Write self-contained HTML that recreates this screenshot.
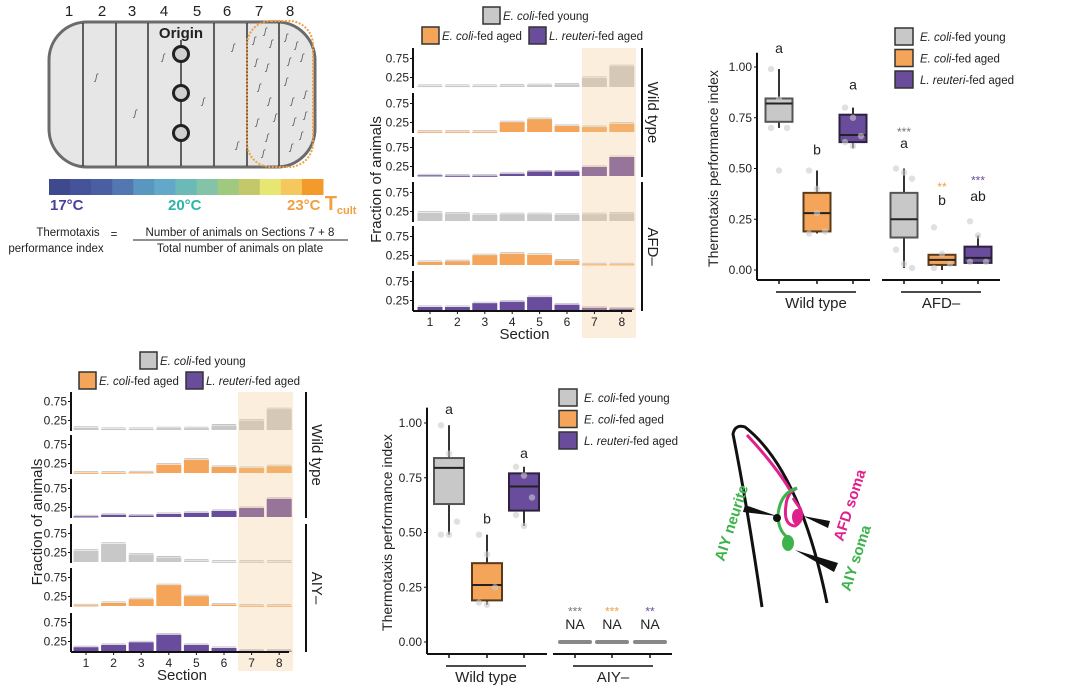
<!DOCTYPE html>
<html><head><meta charset="utf-8">
<style>
html,body{margin:0;padding:0;background:#fff;}
svg{display:block;font-family:"Liberation Sans",Arial,sans-serif;}
</style></head>
<body>
<svg id="fig" width="1072" height="690" viewBox="0 0 1072 690" xmlns="http://www.w3.org/2000/svg">
<!-- Panel A -->
<g>
  <rect x="49" y="22" width="266" height="145" rx="38" fill="#e6e6e6" stroke="#6b6b6b" stroke-width="3"/>
  <g stroke="#333" stroke-width="1.5">
    <line x1="83" y1="23" x2="83" y2="166"/><line x1="116" y1="23" x2="116" y2="166"/>
    <line x1="148" y1="23" x2="148" y2="166"/><line x1="181" y1="40" x2="181" y2="166"/>
    <line x1="214" y1="23" x2="214" y2="166"/><line x1="247" y1="23" x2="247" y2="166"/>
    <line x1="279" y1="23" x2="279" y2="166"/>
  </g>
  <g font-size="15" text-anchor="middle" fill="#222">
    <text x="69" y="16">1</text><text x="102" y="16">2</text><text x="132" y="16">3</text><text x="164" y="16">4</text>
    <text x="197" y="16">5</text><text x="227" y="16">6</text><text x="259" y="16">7</text><text x="290" y="16">8</text>
  </g>
  <text x="181" y="38" font-size="15" font-weight="bold" text-anchor="middle" fill="#222">Origin</text>
  <g fill="#d0d0d0" stroke="#222" stroke-width="3">
    <circle cx="181" cy="54" r="7.5"/><circle cx="181" cy="93" r="7.5"/><circle cx="181" cy="133" r="7.5"/>
  </g>
  <g font-size="9" fill="#555" font-style="italic">
    <text x="95" y="80">ʃ</text><text x="134" y="116">ʃ</text><text x="162" y="60">ʃ</text><text x="202" y="104">ʃ</text><text x="232" y="50">ʃ</text><text x="236" y="148">ʃ</text>
    <text x="253" y="43">ʃ</text><text x="264" y="34">ʃ</text><text x="270" y="46">ʃ</text><text x="255" y="65">ʃ</text><text x="266" y="70">ʃ</text><text x="258" y="90">ʃ</text><text x="268" y="104">ʃ</text><text x="274" y="120">ʃ</text><text x="256" y="125">ʃ</text><text x="266" y="140">ʃ</text><text x="262" y="156">ʃ</text>
    <text x="285" y="40">ʃ</text><text x="295" y="48">ʃ</text><text x="288" y="64">ʃ</text><text x="301" y="60">ʃ</text><text x="285" y="84">ʃ</text><text x="291" y="104">ʃ</text><text x="304" y="97">ʃ</text><text x="293" y="124">ʃ</text><text x="304" y="118">ʃ</text><text x="300" y="138">ʃ</text><text x="290" y="150">ʃ</text>
  </g>
  <rect x="247" y="21" width="66" height="146" rx="24" fill="none" stroke="#f0a040" stroke-width="2" stroke-dasharray="2,1.5"/>
  <g id="cbar"></g>
  <text x="50" y="210" font-size="15" font-weight="bold" fill="#4b3f9e">17°C</text>
  <text x="168" y="210" font-size="15" font-weight="bold" fill="#2bb5a9">20°C</text>
  <text x="287" y="210" font-size="15" font-weight="bold" fill="#f0a040">23°C <tspan font-size="20">T</tspan><tspan font-size="11" dy="4">cult</tspan></text>
  <g font-size="11.5" fill="#222">
    <text x="68" y="236" text-anchor="middle">Thermotaxis</text>
    <text x="56" y="252" text-anchor="middle">performance index</text>
    <text x="114" y="238" text-anchor="middle">=</text>
    <text x="240" y="236" text-anchor="middle">Number of animals on Sections 7 + 8</text>
    <line x1="133" y1="240" x2="348" y2="240" stroke="#222" stroke-width="1"/>
    <text x="240" y="252" text-anchor="middle">Total number of animals on plate</text>
  </g>
</g>
<g id="panelB"></g>
<g id="panelC"></g>
<g id="panelD"></g>
<g id="panelE"></g>
<!-- Panel F -->
<g>
  <path d="M762,607 Q748,510 733,434 Q735,424 745,427 Q800,470 827,603" fill="none" stroke="#111" stroke-width="3"/>
  <path d="M747,435 Q775,465 790,490" fill="none" stroke="#e0208c" stroke-width="3"/>
  <path d="M797,488 Q787,493 786,505 Q783,525 795,526 Q805,520 800,508 Q796,503 793,498" fill="none" stroke="#e0208c" stroke-width="3"/>
  <ellipse cx="797" cy="517" rx="5" ry="8" fill="#e0208c"/>
  <path d="M797,488 Q780,493 778,515 Q778,530 787,537" fill="none" stroke="#3cb44b" stroke-width="3"/>
  <ellipse cx="788" cy="543" rx="6" ry="8" fill="#3cb44b"/>
  <circle cx="777" cy="518" r="4" fill="#111"/>
  <polygon points="745,505 777,516 743,512" fill="#111"/>
  <polygon points="803,516 830,521 828,528" fill="#111"/>
  <polygon points="795,550 838,563 834,572" fill="#111"/>
  <text transform="translate(724,562) rotate(-72)" font-size="15" font-weight="bold" fill="#3cb44b">AIY neurite</text>
  <text transform="translate(843,542) rotate(-72)" font-size="15" font-weight="bold" fill="#e0208c">AFD soma</text>
  <text transform="translate(850,592) rotate(-72)" font-size="15" font-weight="bold" fill="#3cb44b">AIY soma</text>
</g>
</svg>
<script>
// ---------- DATA ----------
const sections = [1,2,3,4,5,6,7,8];
const groups = ["E. coli-fed young","E. coli-fed aged","L. reuteri-fed aged"];
const fracTicks = [0.25, 0.75];
const bWtYoung  = [0.03,0.03,0.03,0.04,0.05,0.07,0.24,0.55];
const bWtAged   = [0.01,0.01,0.01,0.26,0.34,0.16,0.13,0.22];
const bWtReut   = [0.02,0.01,0.01,0.06,0.12,0.12,0.24,0.50];
const bAfdYoung = [0.22,0.20,0.16,0.18,0.18,0.16,0.18,0.20];
const bAfdAged  = [0.08,0.10,0.26,0.30,0.27,0.12,0.02,0.02];
const bAfdReut  = [0.08,0.08,0.18,0.22,0.34,0.14,0.06,0.04];
const dWtYoung  = [0.06,0.03,0.03,0.05,0.05,0.12,0.25,0.55];
const dWtAged   = [0.01,0.01,0.02,0.22,0.35,0.16,0.13,0.18];
const dWtReut   = [0.02,0.06,0.04,0.08,0.11,0.16,0.24,0.48];
const dAiyYoung = [0.30,0.48,0.20,0.12,0.04,0.01,0.01,0.01];
const dAiyAged  = [0.02,0.08,0.18,0.55,0.26,0.04,0.01,0.01];
const dAiyReut  = [0.10,0.16,0.23,0.43,0.16,0.08,0.01,0.01];
const indexTicks = [0, 0.25, 0.5, 0.75, 1.0];
const tickLabels = ["0.00","0.25","0.50","0.75","1.00"];
// box stats: [lowWhisker, q1, median, q3, highWhisker]
const cWtYoung  = [0.70,0.73,0.82,0.845,0.99];
const cWtAged   = [0.18,0.19,0.28,0.38,0.49];
const cWtReut   = [0.60,0.63,0.665,0.765,0.80];
const cAfdYoung = [0.01,0.16,0.25,0.38,0.50];
const cAfdAged  = [0.00,0.025,0.05,0.075,0.08];
const cAfdReut  = [0.035,0.035,0.06,0.115,0.17];
const cPoints = [[0.99,0.84,0.70,0.70,0.49],[0.49,0.40,0.19,0.18,0.28],[0.80,0.75,0.66,0.63,0.61],[0.50,0.48,0.45,0.10,0.03,0.01],[0.21,0.08,0.03,0.01],[0.24,0.17,0.04,0.04]];
const eWtYoung  = [0.49,0.63,0.795,0.84,0.99];
const eWtAged   = [0.17,0.19,0.26,0.36,0.49];
const eWtReut   = [0.53,0.60,0.71,0.77,0.80];
const eAiy      = [0,0,0,0,0];
const ePoints = [[0.99,0.86,0.55,0.49,0.49],[0.49,0.40,0.25,0.18,0.17],[0.80,0.76,0.66,0.58,0.53],[],[],[]];
const colorbarColors = ["#3f4a8e","#44539a","#4a5fa3","#5377b0","#5a97c0","#62a8c8","#6cbab8","#85c3a8","#a0c980","#c3c86a","#e8e672","#f5c85d","#f39a2a"];

const NS="http://www.w3.org/2000/svg";
const COL=["#c8c8c8","#f4a55a","#6a4c9c"];
const STROKE=["#555","#5a3a1a","#2e2040"];
function mk(tag,attrs,parent,text){const e=document.createElementNS(NS,tag);for(const k in attrs)e.setAttribute(k,attrs[k]);if(text!==undefined)e.textContent=text;parent.appendChild(e);return e;}

// colorbar
(function(){const g=document.getElementById('cbar');const x0=49,x1=323,w=(x1-x0)/colorbarColors.length;
colorbarColors.forEach((c,i)=>{const r=mk('rect',{x:x0+i*w,y:179,width:w+0.5,height:16,fill:c},g);

});})();

function legendTwoRow(g,x,y){
  const items=[[x,y,0],[x-61,y+20,1],[x+46,y+20,2]];
  const parts=[["E. coli","-fed young"],["E. coli","-fed aged"],["L. reuteri","-fed aged"]];
  items.forEach(([bx,by,i])=>{
    const r=mk('rect',{x:bx,y:by,width:17,height:17,fill:COL[i],stroke:"#333","stroke-width":1.5},g);
    
    
    const t=mk('text',{x:bx+20,y:by+13,"font-size":11.5,fill:"#222"},g);
    
    
    mk('tspan',{"font-style":"italic"},t,parts[i][0]);mk('tspan',{},t,parts[i][1]);
  });
}

function facetPanel(gid,cfg){
  const g=document.getElementById(gid);
  const sx=i=>cfg.sec1+i*cfg.step;
  const unit=38;
  cfg.rows.forEach((row,ri)=>{
    const top=cfg.tops[ri],zero=top+cfg.h-1;
    const y=v=>zero-v*unit;
    const ax=mk('line',{x1:cfg.ax,y1:top,x2:cfg.ax,y2:top+cfg.h,stroke:"#111","stroke-width":2},g);
    
    
    fracTicks.forEach(t=>{mk('line',{x1:cfg.ax-3,x2:cfg.ax,y1:y(t),y2:y(t),stroke:"#111"},g);
      const tl=mk('text',{x:cfg.ax-4,y:y(t)+4,"font-size":12,"text-anchor":"end",fill:"#222"},g,t.toFixed(2));
      
      });
    row.forEach((v,i)=>{
      const b=mk('rect',{x:sx(i)-12.5,y:y(v),width:25,height:Math.max(v*unit,1.2),fill:COL[ri%3]},g);
      
      
      mk('line',{x1:sx(i)-12,x2:sx(i)+12,y1:y(v)-1,y2:y(v)-1,stroke:"#bbb","stroke-width":0.8},g);
    });
  });
  const hl=mk('rect',{x:cfg.hx,y:cfg.tops[0],width:cfg.hw,height:cfg.hb-cfg.tops[0],fill:"#f6c993",opacity:0.32},g);
  
  
  const lastBottom=cfg.tops[5]+cfg.h;
  mk('line',{x1:cfg.ax,x2:cfg.hx+cfg.hw-4,y1:lastBottom,y2:lastBottom,stroke:"#111","stroke-width":2},g);
  sections.forEach((s,i)=>{mk('line',{x1:sx(i),x2:sx(i),y1:lastBottom,y2:lastBottom+3,stroke:"#111"},g);
    const t=mk('text',{x:sx(i),y:lastBottom+15,"font-size":12,"text-anchor":"middle",fill:"#222"},g,s);
    
    });
  const xt=mk('text',{x:(cfg.ax+cfg.hx+cfg.hw)/2,y:lastBottom+28,"font-size":15,"text-anchor":"middle",fill:"#222"},g,"Section");
  
  
  const yt=mk('text',{transform:`translate(${cfg.ytx},${(cfg.tops[0]+lastBottom)/2}) rotate(-90)`,"font-size":15,"text-anchor":"middle",fill:"#222"},g,"Fraction of animals");
  
  
  [[0,2,"Wild type"],[3,5,cfg.mut]].forEach(([a,b,lab])=>{
    const y1=cfg.tops[a],y2=cfg.tops[b]+cfg.h;
    mk('line',{x1:cfg.sx,x2:cfg.sx,y1:y1,y2:y2,stroke:"#111","stroke-width":2},g);
    const t=mk('text',{transform:`translate(${cfg.sx+6},${(y1+y2)/2}) rotate(90)`,"font-size":15,"text-anchor":"middle",fill:"#222"},g,lab);
    
    
  });
  legendTwoRow(g,cfg.lx,cfg.ly);
}
facetPanel('panelB',{ax:413,sec1:430,step:27.4,tops:[48,93,137,182,226,271],h:40,
  rows:[bWtYoung,bWtAged,bWtReut,bAfdYoung,bAfdAged,bAfdReut],hx:582,hw:54,hb:338,ytx:381,sx:642,mut:"AFD–",lx:483,ly:7});
facetPanel('panelD',{ax:71,sec1:86,step:27.6,tops:[392,435,479,524,568,613],h:39,
  rows:[dWtYoung,dWtAged,dWtReut,dAiyYoung,dAiyAged,dAiyReut],hx:238,hw:55,hb:671,ytx:42,sx:306,mut:"AIY–",lx:140,ly:352});

function boxPanel(gid,cfg){
  const g=document.getElementById(gid);
  const y=v=>cfg.y0-v*cfg.unit;
  mk('line',{x1:cfg.ax,x2:cfg.ax,y1:y(1.07),y2:cfg.axb,stroke:"#111","stroke-width":2},g);
  indexTicks.forEach((t,i)=>{mk('line',{x1:cfg.ax-3,x2:cfg.ax,y1:y(t),y2:y(t),stroke:"#111"},g);
    const tl=mk('text',{x:cfg.ax-5,y:y(t)+4,"font-size":12,"text-anchor":"end",fill:"#222"},g,tickLabels[i]);
    
    });
  cfg.axes.forEach(([a,b])=>mk('line',{x1:a,x2:b,y1:cfg.axb,y2:cfg.axb,stroke:"#111","stroke-width":2},g));
  cfg.centers.forEach(c=>mk('line',{x1:c,x2:c,y1:cfg.axb,y2:cfg.axb+4,stroke:"#111","stroke-width":1.5},g));
  cfg.groupLines.forEach(([a,b,lab])=>{mk('line',{x1:a,x2:b,y1:cfg.axb+12,y2:cfg.axb+12,stroke:"#111","stroke-width":1.5},g);
    const t=mk('text',{x:(a+b)/2,y:cfg.axb+28,"font-size":15,"text-anchor":"middle",fill:"#222"},g,lab);
    
    });
  const yt=mk('text',{transform:`translate(${cfg.ytx},${(y(1)+y(0))/2}) rotate(-90)`,"font-size":14,"text-anchor":"middle",fill:"#222"},g,"Thermotaxis performance index");
  
  
  cfg.boxes.forEach((s,i)=>{
    const c=cfg.centers[i],w=cfg.bw,ci=i%3;
    if(cfg.na&&i>=3){
      const r=mk('rect',{x:c-w/2-2,y:y(0)-2,width:w+4,height:4,rx:2,fill:"#888"},g);
      
      
      return;}
    mk('line',{x1:c,x2:c,y1:y(s[0]),y2:y(s[4]),stroke:"#333","stroke-width":2},g);
    const r=mk('rect',{x:c-w/2,y:y(s[3]),width:w,height:y(s[1])-y(s[3]),fill:COL[ci],stroke:STROKE[ci],"stroke-width":2},g);
    
    
    mk('line',{x1:c-w/2,x2:c+w/2,y1:y(s[2]),y2:y(s[2]),stroke:"#222","stroke-width":2},g);
  });
  cfg.points.forEach((arr,i)=>arr.forEach((v,j)=>{
    const p=mk('circle',{cx:cfg.centers[i]+((j%3)-1)*8,cy:y(v),r:3.2,fill:"#ccc",opacity:0.6},g);
    
    }));
  cfg.labels.forEach(([i,v,txt,col,fs])=>{const t=mk('text',{x:cfg.centers[i],y:y(v),"font-size":fs||14,"text-anchor":"middle",fill:col||"#222"},g,txt);
    
    });
  const parts=[["E. coli","-fed young"],["E. coli","-fed aged"],["L. reuteri","-fed aged"]];
  [0,1,2].forEach(i=>{const by=cfg.ly+i*cfg.lstep;
    const r=mk('rect',{x:cfg.lx,y:by,width:18,height:17,fill:COL[i],stroke:"#333","stroke-width":1.5},g);
    
    
    const t=mk('text',{x:cfg.lx+25,y:by+13,"font-size":11.5,fill:"#222"},g);
    
    
    mk('tspan',{"font-style":"italic"},t,parts[i][0]);mk('tspan',{},t,parts[i][1]);});
}
boxPanel('panelC',{ax:757,y0:270,unit:203,axb:280,axes:[[757,870],[882,1000]],centers:[779,817,853,904,942,978],bw:27,
  groupLines:[[776,856,"Wild type"],[901,981,"AFD–"]],ytx:718,boxes:[cWtYoung,cWtAged,cWtReut,cAfdYoung,cAfdAged,cAfdReut],points:cPoints,
  labels:[[0,1.07,"a"],[1,0.57,"b"],[2,0.89,"a"],[3,0.66,"***","#777",12],[3,0.6,"a"],[4,0.39,"**","#f0a040",12],[4,0.32,"b"],[5,0.42,"***","#6a4c9c",12],[5,0.34,"ab"]],
  lx:895,ly:28,lstep:21.5});
boxPanel('panelE',{ax:427,y0:642,unit:219,axb:654,axes:[[427,547],[553,672]],centers:[449,487,524,575,612,650],bw:30,na:true,
  groupLines:[[446,526,"Wild type"],[573,653,"AIY–"]],ytx:392,boxes:[eWtYoung,eWtAged,eWtReut,eAiy,eAiy,eAiy],points:ePoints,
  labels:[[0,1.04,"a"],[1,0.54,"b"],[2,0.84,"a"],[3,0.12,"***","#777",12],[3,0.06,"NA"],[4,0.12,"***","#f0a040",12],[4,0.06,"NA"],[5,0.12,"**","#6a4c9c",12],[5,0.06,"NA"]],
  lx:559,ly:389,lstep:21.5});
</script>
</body></html>
